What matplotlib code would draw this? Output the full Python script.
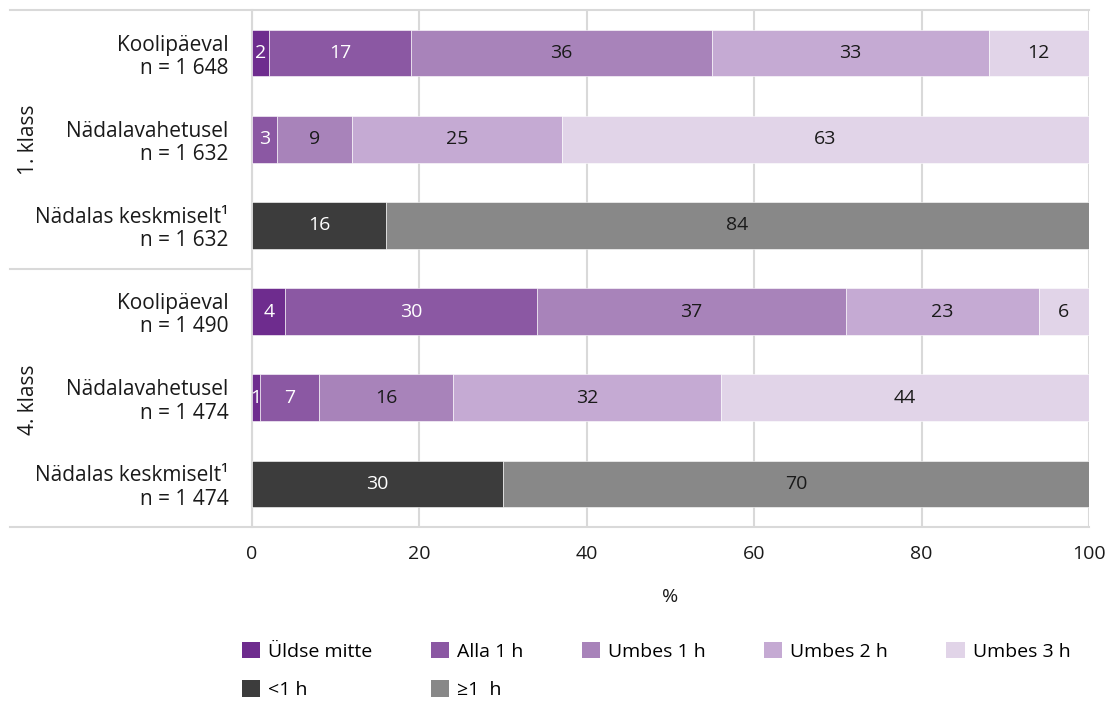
import matplotlib
matplotlib.use('Agg')
import matplotlib.pyplot as plt
from matplotlib.lines import Line2D
from matplotlib.patches import Patch
import numpy as np

plt.rcParams['font.family'] = ['Open Sans', 'DejaVu Sans']

# Data
row_labels = [
    "Koolipäeval\nn = 1 648",
    "Nädalavahetusel\nn = 1 632",
    "Nädalas keskmiselt¹\nn = 1 632",
    "Koolipäeval\nn = 1 490",
    "Nädalavahetusel\nn = 1 474",
    "Nädalas keskmiselt¹\nn = 1 474",
]
groups = ["1. klass", "4. klass"]

purple_names = ["Üldse mitte", "Alla 1 h", "Umbes 1 h", "Umbes 2 h", "Umbes 3 h"]
gray_names = ["<1 h", "≥1  h"]

# per-row values for each category (0 = not present)
uldse_mitte = [2, 0, 0, 4, 1, 0]
alla_1h = [17, 3, 0, 30, 7, 0]
umbes_1h = [36, 9, 0, 37, 16, 0]
umbes_2h = [33, 25, 0, 23, 32, 0]
umbes_3h = [12, 63, 0, 6, 44, 0]
alla_1h_avg = [0, 0, 16, 0, 0, 30]
vahemalt_1h_avg = [0, 0, 84, 0, 0, 70]

series = [uldse_mitte, alla_1h, umbes_1h, umbes_2h, umbes_3h, alla_1h_avg, vahemalt_1h_avg]
names = purple_names + gray_names
colors = ["#6E2C8E", "#8B58A3", "#A883BA", "#C5AAD3", "#E1D4E8", "#3C3C3C", "#888888"]
text_colors = ["white", "white", "#1a1a1a", "#1a1a1a", "#1a1a1a", "white", "#1a1a1a"]

fig = plt.figure(figsize=(11.1, 7.01), dpi=100)
ax = fig.add_axes([252 / 1110, 1 - 527 / 701, (1089 - 252) / 1110, 517 / 701])

y = np.arange(len(row_labels))
left = np.zeros(len(row_labels))
bar_h = 0.54
for vals, name, col, tcol in zip(series, names, colors, text_colors):
    vals = np.array(vals, dtype=float)
    bars = ax.barh(y, vals, left=left, height=bar_h, color=col, label=name,
                   edgecolor='white', linewidth=0.4, zorder=3)
    for b, v, l in zip(bars, vals, left):
        if v > 0:
            ax.text(l + v / 2, b.get_y() + b.get_height() / 2, f"{int(v)}",
                    ha='center', va='center', color=tcol, fontsize=14, zorder=4)
    left += vals

ax.set_xlim(0, 100)
ax.set_ylim(len(row_labels) - 0.5, -0.5)
ax.set_xticks([0, 20, 40, 60, 80, 100])
ax.set_yticks(y)
ax.set_yticklabels(row_labels, fontsize=15, linespacing=1.15)
ax.tick_params(axis='both', length=0, colors='#1a1a1a')
ax.tick_params(axis='x', pad=13, labelsize=14)
ax.tick_params(axis='y', pad=17)
ax.xaxis.grid(True, color='#D9D9D9', linewidth=1.5, zorder=0)
ax.set_axisbelow(True)
ax.set_xlabel("%", fontsize=14, labelpad=18, color='#1a1a1a')

for side in ['top', 'bottom', 'right']:
    ax.spines[side].set_visible(False)
ax.spines['left'].set_color('#D9D9D9')
ax.spines['left'].set_linewidth(1.5)

# frame lines extending into label area
x0 = (10 - 252) / (1089 - 252)
for yy in [1.0, 0.0]:
    ax.add_line(Line2D([x0, 1.0], [yy, yy], transform=ax.transAxes, color='#D9D9D9',
                       linewidth=1.5, clip_on=False))
ax.add_line(Line2D([x0, 0.0], [0.5, 0.5], transform=ax.transAxes, color='#D9D9D9',
                   linewidth=1.5, clip_on=False))

# group labels
for i, g in enumerate(groups):
    fig.text(28 / 1110, 1 - (140 + i * 260) / 701, g, rotation=90, ha='center', va='center',
             fontsize=15, color='#1a1a1a')

# legend: reorder for column-major filling
order = [0, 5, 1, 6, 2, 3, 4]
handles = [Patch(facecolor=colors[i], edgecolor='none') for i in order]
labels = [names[i] for i in order]
fig.legend(handles, labels, ncol=5, loc='upper left', bbox_to_anchor=(232 / 1110, 1 - 632 / 701),
           frameon=False, fontsize=14, handlelength=0.95, handleheight=0.95, handletextpad=0.4,
           columnspacing=3.0, labelspacing=1.0, borderpad=0)

fig.savefig("out.png", dpi=100)
